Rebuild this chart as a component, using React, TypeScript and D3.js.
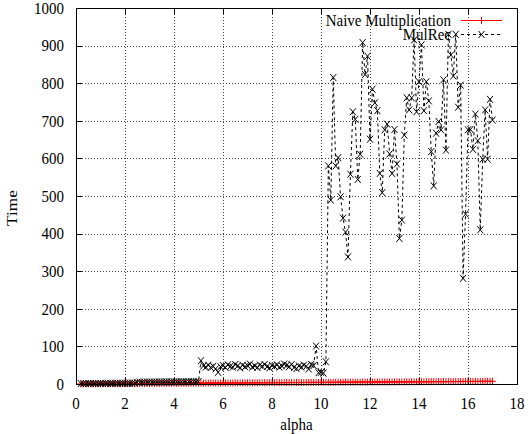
import React from "react";
import * as d3 from "d3";

const WIDTH = 528;
const HEIGHT = 434;

// Sampling grid for alpha: first value and step between runs
const ALPHA_FIRST = 0.2;
const ALPHA_STEP = 0.1;

const X_TICKS = [0, 2, 4, 6, 8, 10, 12, 14, 16, 18];
const Y_TICKS = [0, 100, 200, 300, 400, 500, 600, 700, 800, 900, 1000];

const SERIES_NAMES = ["Naive Multiplication", "MulRec"];

// Running time of the naive multiplication, alpha = 0.2 .. 17.0
const naiveTimes = [
  0.4, 0.3, 0.5, 0.4, 0.5, 0.6, 0.5, 0.7, 0.6,
  0.7, 0.8, 0.7, 0.9, 0.8, 0.9, 1.0, 0.9, 1.1, 1.0,
  1.1, 1.2, 1.1, 1.3, 1.2, 1.3, 1.4, 1.3, 1.5, 1.4,
  1.5, 1.6, 1.5, 1.7, 1.6, 1.8, 1.7, 1.8, 1.9, 1.8,
  1.9, 2.0, 2.0, 2.1, 2.0, 2.2, 2.1, 2.3, 2.2, 2.3,
  2.4, 2.3, 2.5, 2.4, 2.6, 2.5, 2.6, 2.7, 2.6, 2.8,
  2.7, 2.8, 2.9, 2.8, 3.0, 2.9, 3.0, 3.1, 3.0, 3.2,
  3.1, 3.2, 3.3, 3.2, 3.4, 3.3, 3.4, 3.5, 3.4, 3.6,
  3.5, 3.6, 3.7, 3.6, 3.8, 3.7, 3.8, 3.9, 3.8, 4.0,
  3.9, 4.0, 4.1, 4.0, 4.2, 4.1, 4.2, 4.3, 4.2, 4.4,
  4.3, 4.4, 4.5, 4.4, 4.6, 4.5, 4.6, 4.7, 4.6, 4.8,
  4.7, 4.8, 4.9, 4.8, 5.0, 4.9, 5.0, 5.1, 5.0, 5.2,
  5.1, 5.2, 5.3, 5.2, 5.4, 5.3, 5.4, 5.5, 5.4, 5.6,
  5.5, 5.6, 5.7, 5.6, 5.8, 5.7, 5.8, 5.9, 5.8, 6.0,
  5.9, 6.0, 6.1, 6.0, 6.2, 6.1, 6.2, 6.3, 6.2, 6.4,
  6.3, 6.4, 6.5, 6.4, 6.6, 6.5, 6.6, 6.7, 6.6, 6.8,
  6.7, 6.8, 6.9, 6.8, 7.0, 6.9, 7.0, 7.1, 7.0, 7.2,
];

// Running time of MulRec, alpha = 0.2 .. 17.0
const mulRecTimes = [
  1.2, 1.1, 1.3, 1.2, 1.4, 1.3, 1.5, 1.4, 1.6,
  1.5, 1.7, 1.6, 1.8, 1.7, 1.9, 1.8, 2.0, 1.9, 2.1,
  2.0, 2.2, 2.1, 2.3,
  4.6, 4.8, 4.7, 4.9, 5.0, 4.9,
  5.1, 5.0, 5.2, 5.3, 5.2, 5.4, 5.3, 5.5, 5.6, 5.5,
  5.7, 5.6, 5.8, 5.9, 5.8, 6.0, 6.1, 6.0, 6.2, 6.3,
  62, 48, 45, 50, 44, 47, 40, 31, 46, 49,
  44, 51, 47, 45, 52, 48, 43, 50, 46, 49,
  53, 45, 48, 44, 50, 47, 52, 46, 43, 49,
  47, 51, 45, 48, 53, 50, 46, 52, 44, 41,
  48, 45, 50, 47, 40, 52, 49,
  101,
  30, 31, 29, 59,
  580, 489, 815, 580, 602, 498, 441, 404,
  338, 558, 724, 704, 544, 611, 908, 823, 872, 651,
  784, 748, 727, 560, 509, 676, 691, 612, 560, 677,
  585, 387, 436, 662, 761, 729, 761, 915, 724, 804,
  902, 727, 804, 753, 618, 527, 667, 698, 676, 809,
  622, 930, 875, 819, 930, 736, 795, 281, 452, 676,
  677, 624, 718, 647, 410, 598, 729, 598, 757, 702,
];

const alphaValues = naiveTimes.map((_, i) => +(ALPHA_FIRST + i * ALPHA_STEP).toFixed(1));

const FONT = '"Liberation Serif", "Times New Roman", Times, serif';
const FONT_SIZE = 15;
const TEXT_STRETCH = 1.15; // glyphs are a little taller than wide

const plusPath = "M-3.5,0H3.5M0,-3.5V3.5";
const crossPath = "M-3,-3.5L3,3.5M-3,3.5L3,-3.5";

type LabelProps = {
  x: number;
  y: number;
  anchor?: "start" | "middle" | "end";
  rotate?: number;
  children: React.ReactNode;
};

function Label({ x, y, anchor = "start", rotate = 0, children }: LabelProps) {
  return (
    <text
      transform={`translate(${x},${y}) scale(1,${TEXT_STRETCH})${rotate ? ` rotate(${rotate})` : ""}`}
      textAnchor={anchor}
      fontSize={FONT_SIZE}
      fill="#000"
      style={{ fontFamily: FONT }}
    >
      {children}
    </text>
  );
}

export default function App() {
  const left = 76;
  const right = 517;
  const top = 8;
  const bottom = 384;

  const x = d3.scaleLinear().domain([0, 18]).range([left, right]);
  const y = d3.scaleLinear().domain([0, 1000]).range([bottom, top]);

  const crisp = (v: number) => Math.round(v) + 0.5;

  const lineGen = d3
    .line<number>()
    .x((_, i) => x(alphaValues[i]))
    .y((d) => y(d));

  const tickLen = 6;
  const digitHalf = (FONT_SIZE * 0.676 * TEXT_STRETCH) / 2;

  return (
    <svg
      width={WIDTH}
      height={HEIGHT}
      style={{ position: "absolute", left: 0, top: 0, background: "#fff", fontFamily: FONT }}
    >
      <rect x={0} y={0} width={WIDTH} height={HEIGHT} fill="#fff" />

      {/* grid */}
      <g stroke="#444" strokeWidth={1} strokeDasharray="1,2">
        {X_TICKS.filter((t) => t > 0 && t < 18).map((t) => (
          <line key={"gx" + t} x1={crisp(x(t))} x2={crisp(x(t))} y1={top} y2={bottom} />
        ))}
        {Y_TICKS.filter((t) => t > 0 && t < 1000).map((t) => (
          <line key={"gy" + t} x1={left} x2={right} y1={crisp(y(t))} y2={crisp(y(t))} />
        ))}
      </g>

      {/* tick marks on all four sides */}
      <g stroke="#000" strokeWidth={1}>
        {X_TICKS.map((t) => (
          <g key={"tx" + t}>
            <line x1={crisp(x(t))} x2={crisp(x(t))} y1={bottom} y2={bottom - tickLen} />
            <line x1={crisp(x(t))} x2={crisp(x(t))} y1={top} y2={top + tickLen} />
          </g>
        ))}
        {Y_TICKS.map((t) => (
          <g key={"ty" + t}>
            <line x1={left} x2={left + tickLen} y1={crisp(y(t))} y2={crisp(y(t))} />
            <line x1={right} x2={right - tickLen} y1={crisp(y(t))} y2={crisp(y(t))} />
          </g>
        ))}
      </g>

      {/* tick labels */}
      {X_TICKS.map((t) => (
        <Label key={"lx" + t} x={x(t)} y={409} anchor="middle">
          {t}
        </Label>
      ))}
      {Y_TICKS.map((t) => (
        <Label key={"ly" + t} x={64} y={y(t) + digitHalf} anchor="end">
          {t}
        </Label>
      ))}

      {/* axis titles */}
      <Label x={(left + right) / 2} y={430} anchor="middle">
        alpha
      </Label>
      <Label x={17} y={208} anchor="middle" rotate={-90}>
        Time
      </Label>

      {/* Naive Multiplication */}
      <path d={lineGen(naiveTimes) ?? ""} fill="none" stroke="#ff0000" strokeWidth={1} />
      <g stroke="#ff0000" strokeWidth={1}>
        {naiveTimes.map((v, i) => (
          <path key={"np" + i} d={plusPath} transform={`translate(${x(alphaValues[i])},${y(v)})`} />
        ))}
      </g>

      {/* MulRec */}
      <path
        d={lineGen(mulRecTimes) ?? ""}
        fill="none"
        stroke="#000"
        strokeWidth={1}
        strokeDasharray="3,3"
      />
      <g stroke="#000" strokeWidth={1}>
        {mulRecTimes.map((v, i) => (
          <path key={"mp" + i} d={crossPath} transform={`translate(${x(alphaValues[i])},${y(v)})`} />
        ))}
      </g>

      {/* legend */}
      <Label x={451} y={25.5} anchor="end">
        {SERIES_NAMES[0]}
      </Label>
      <line x1={461} x2={502} y1={20.5} y2={20.5} stroke="#ff0000" />
      <path d={plusPath} transform="translate(481.5,20.5)" stroke="#ff0000" />
      <Label x={451} y={39.5} anchor="end">
        {SERIES_NAMES[1]}
      </Label>
      <line x1={461} x2={502} y1={34.5} y2={34.5} stroke="#000" strokeDasharray="3,3" />
      <path d={crossPath} transform="translate(481.5,34.5)" stroke="#000" />

      {/* frame */}
      <rect
        x={left + 0.5}
        y={top + 0.5}
        width={right - left}
        height={bottom - top}
        fill="none"
        stroke="#000"
        strokeWidth={1}
      />
    </svg>
  );
}
